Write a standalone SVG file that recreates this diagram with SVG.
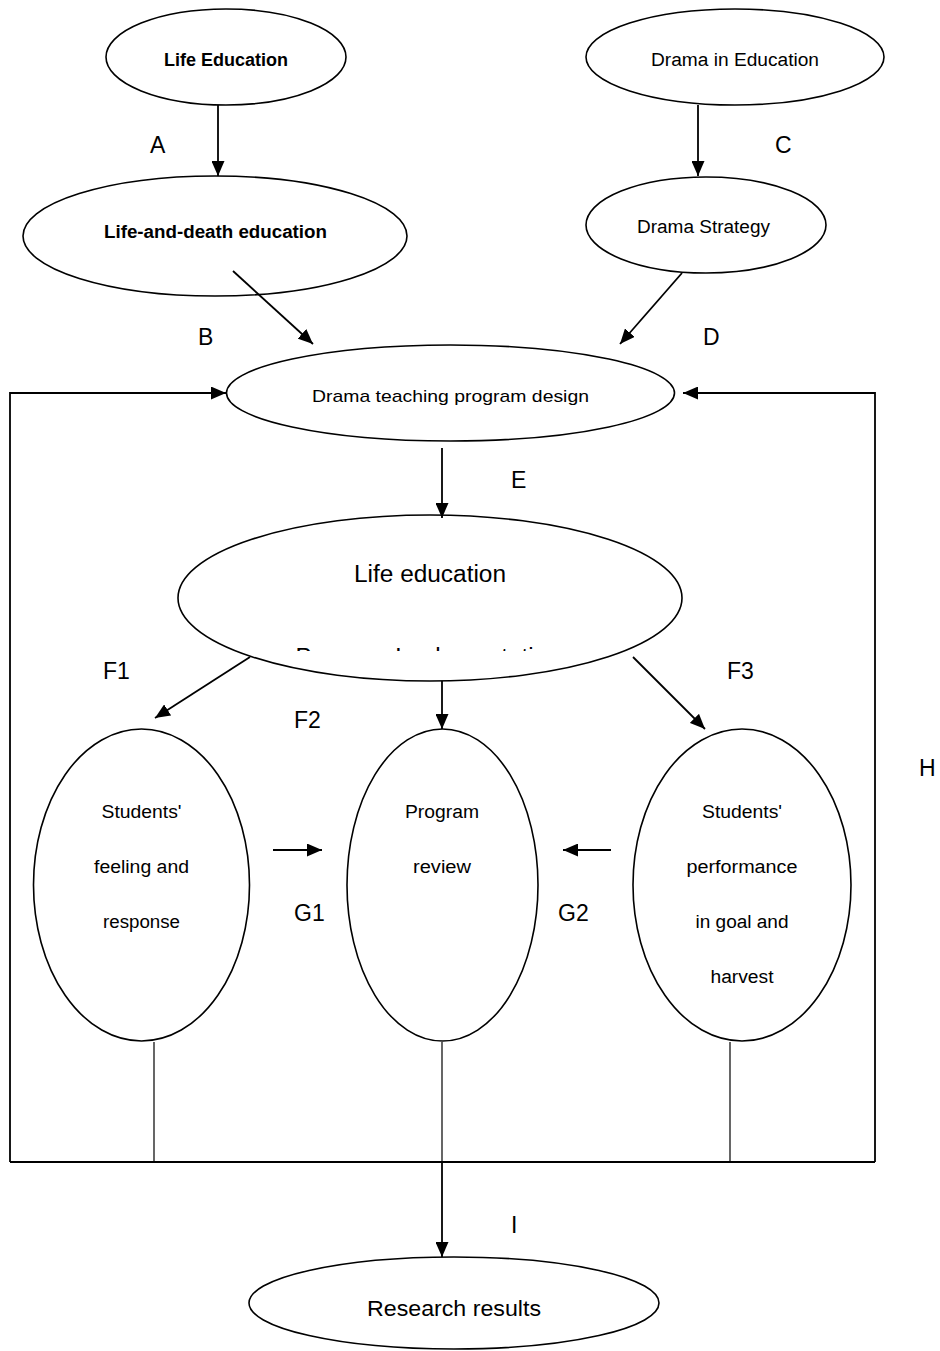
<svg xmlns="http://www.w3.org/2000/svg" width="940" height="1351" viewBox="0 0 940 1351">
<style>
.n{fill:#fff;stroke:#000;stroke-width:1.6}
.t{font-family:"Liberation Sans",Arial,sans-serif;fill:#000;text-anchor:middle}
.b{font-weight:bold}
.lbl{font-family:"Liberation Sans",Arial,sans-serif;font-size:23px;fill:#000}
.c{fill:none;stroke:#000;stroke-width:1.8}
.thin{fill:none;stroke:#000;stroke-width:1.2}
</style>
<defs>
<marker id="ah" markerUnits="userSpaceOnUse" markerWidth="16" markerHeight="13" refX="15" refY="6.5" orient="auto">
<path d="M0,0 L15,6.5 L0,13 z" fill="#000"/>
</marker>
<clipPath id="cut"><rect x="200" y="600" width="460" height="51"/></clipPath>
</defs>
<rect width="940" height="1351" fill="#fff"/>

<g id="n-life-education">
<ellipse class="n" cx="226" cy="57" rx="120" ry="48"/>
<text class="t b" x="226" y="66" font-size="18" textLength="124" lengthAdjust="spacingAndGlyphs">Life Education</text>
</g>
<g id="n-life-death">
<ellipse class="n" cx="215" cy="236" rx="192" ry="60"/>
<text class="t b" x="215.5" y="238" font-size="18" textLength="223" lengthAdjust="spacingAndGlyphs">Life-and-death education</text>
</g>
<g id="n-drama-in-education">
<ellipse class="n" cx="735" cy="57" rx="149" ry="48"/>
<text class="t" x="735" y="66" font-size="18" textLength="168" lengthAdjust="spacingAndGlyphs">Drama in Education</text>
</g>
<g id="n-drama-strategy">
<ellipse class="n" cx="706" cy="225" rx="120" ry="48"/>
<text class="t" x="703.5" y="233" font-size="18" textLength="133" lengthAdjust="spacingAndGlyphs">Drama Strategy</text>
</g>
<g id="n-program-design">
<ellipse class="n" cx="450.5" cy="393" rx="224" ry="48"/>
<text class="t" x="450.5" y="402" font-size="17" textLength="277" lengthAdjust="spacingAndGlyphs">Drama teaching program design</text>
</g>
<g id="n-implementation">
<ellipse class="n" cx="430" cy="598" rx="252" ry="83"/>
<text class="t" x="430" y="582" font-size="23" textLength="152" lengthAdjust="spacingAndGlyphs">Life education</text>
<text class="t" x="428" y="665" font-size="23" textLength="265" lengthAdjust="spacingAndGlyphs" clip-path="url(#cut)">Program Implementation</text>
</g>
<g id="n-feeling">
<ellipse class="n" cx="141.5" cy="885" rx="108" ry="156"/>
<text class="t" x="141.5" y="818" font-size="18" textLength="80" lengthAdjust="spacingAndGlyphs">Students'</text>
<text class="t" x="141.5" y="873" font-size="18" textLength="95" lengthAdjust="spacingAndGlyphs">feeling and</text>
<text class="t" x="141.5" y="928" font-size="18" textLength="77" lengthAdjust="spacingAndGlyphs">response</text>
</g>
<g id="n-review">
<ellipse class="n" cx="442.5" cy="885" rx="95.5" ry="156"/>
<text class="t" x="442" y="818" font-size="18" textLength="74" lengthAdjust="spacingAndGlyphs">Program</text>
<text class="t" x="442" y="873" font-size="18" textLength="58" lengthAdjust="spacingAndGlyphs">review</text>
</g>
<g id="n-performance">
<ellipse class="n" cx="742" cy="885" rx="109" ry="156"/>
<text class="t" x="742" y="818" font-size="18" textLength="80" lengthAdjust="spacingAndGlyphs">Students'</text>
<text class="t" x="742" y="873" font-size="18" textLength="111" lengthAdjust="spacingAndGlyphs">performance</text>
<text class="t" x="742" y="928" font-size="18" textLength="93" lengthAdjust="spacingAndGlyphs">in goal and</text>
<text class="t" x="742" y="983" font-size="18" textLength="63" lengthAdjust="spacingAndGlyphs">harvest</text>
</g>
<g id="n-results">
<ellipse class="n" cx="454" cy="1303" rx="205" ry="46"/>
<text class="t" x="454" y="1316" font-size="22" textLength="174" lengthAdjust="spacingAndGlyphs">Research results</text>
</g>

<g id="connectors">
<line class="c" x1="218" y1="105" x2="218" y2="176" marker-end="url(#ah)"/>
<line class="c" x1="698" y1="105" x2="698" y2="176" marker-end="url(#ah)"/>
<line class="c" x1="233" y1="271" x2="313" y2="344" marker-end="url(#ah)"/>
<line class="c" x1="682" y1="273" x2="620" y2="344" marker-end="url(#ah)"/>
<polyline class="c" points="10,1162 10,393 226,393" marker-end="url(#ah)"/>
<polyline class="c" points="875,1162 875,393 683,393" marker-end="url(#ah)"/>
<line class="c" x1="10" y1="1162" x2="875" y2="1162"/>
<line class="c" x1="442" y1="448" x2="442" y2="518" marker-end="url(#ah)"/>
<line class="c" x1="250" y1="657" x2="155" y2="718" marker-end="url(#ah)"/>
<line class="c" x1="442" y1="681" x2="442" y2="729" marker-end="url(#ah)"/>
<line class="c" x1="633" y1="657" x2="705" y2="729" marker-end="url(#ah)"/>
<line class="c" x1="273" y1="850" x2="322" y2="850" marker-end="url(#ah)"/>
<line class="c" x1="611" y1="850" x2="563" y2="850" marker-end="url(#ah)"/>
<line class="thin" x1="154" y1="1042" x2="154" y2="1162"/>
<line class="thin" x1="442" y1="1042" x2="442" y2="1162"/>
<line class="thin" x1="730" y1="1042" x2="730" y2="1162"/>
<line class="c" x1="442" y1="1162" x2="442" y2="1257" marker-end="url(#ah)"/>
</g>

<g id="labels">
<text class="lbl" x="150" y="153">A</text>
<text class="lbl" x="198" y="345">B</text>
<text class="lbl" x="775" y="153">C</text>
<text class="lbl" x="703" y="345">D</text>
<text class="lbl" x="511" y="488">E</text>
<text class="lbl" x="103" y="679">F1</text>
<text class="lbl" x="294" y="728">F2</text>
<text class="lbl" x="727" y="679">F3</text>
<text class="lbl" x="294" y="921">G1</text>
<text class="lbl" x="558" y="921">G2</text>
<text class="lbl" x="919" y="776">H</text>
<text class="lbl" x="511" y="1233">I</text>
</g>
</svg>
